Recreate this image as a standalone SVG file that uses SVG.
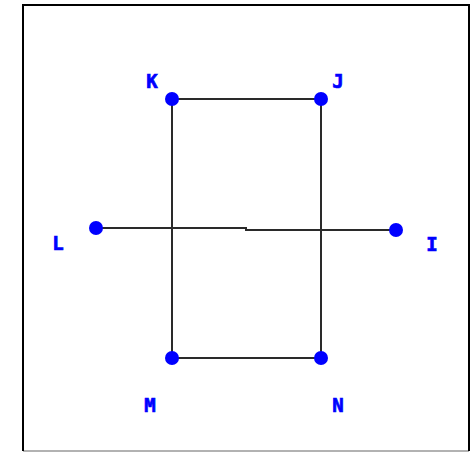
<svg xmlns="http://www.w3.org/2000/svg" width="472" height="452" viewBox="0 0 472 452">
<style>
.edge{stroke:#2a2a2a;stroke-width:2;fill:none}
.dot{fill:#0000ff}
.lbl{fill:#0000ff;stroke:#0000ff;stroke-width:0.7;font-family:"DejaVu Sans Mono","Liberation Mono",monospace;font-weight:bold;font-size:19px;text-anchor:middle}
</style>
<rect x="0" y="0" width="472" height="452" fill="#fff"/>
<line x1="23" y1="451" x2="469" y2="451" stroke="#999" stroke-width="1.5"/>
<path d="M23,451 V5 H469 V451" fill="none" stroke="#000" stroke-width="2"/>
<g id="connectors">
<line class="edge" x1="172" y1="99" x2="321" y2="99"/>
<line class="edge" x1="172" y1="99" x2="172" y2="358"/>
<line class="edge" x1="321" y1="99" x2="321" y2="358"/>
<line class="edge" x1="172" y1="358" x2="321" y2="358"/>
<path class="edge" d="M96,228 H246 V230 H396"/>
</g>
<g id="K"><circle class="dot" cx="172" cy="99" r="7"/><text class="lbl" x="152" y="88">K</text></g>
<g id="J"><circle class="dot" cx="321" cy="99" r="7"/><text class="lbl" x="338" y="88">J</text></g>
<g id="L"><circle class="dot" cx="96" cy="228" r="7"/><text class="lbl" x="58" y="250">L</text></g>
<g id="I"><circle class="dot" cx="396" cy="230" r="7"/><text class="lbl" x="432" y="251">I</text></g>
<g id="M"><circle class="dot" cx="172" cy="358" r="7"/><text class="lbl" x="150" y="412">M</text></g>
<g id="N"><circle class="dot" cx="321" cy="358" r="7"/><text class="lbl" x="338" y="412">N</text></g>
</svg>
